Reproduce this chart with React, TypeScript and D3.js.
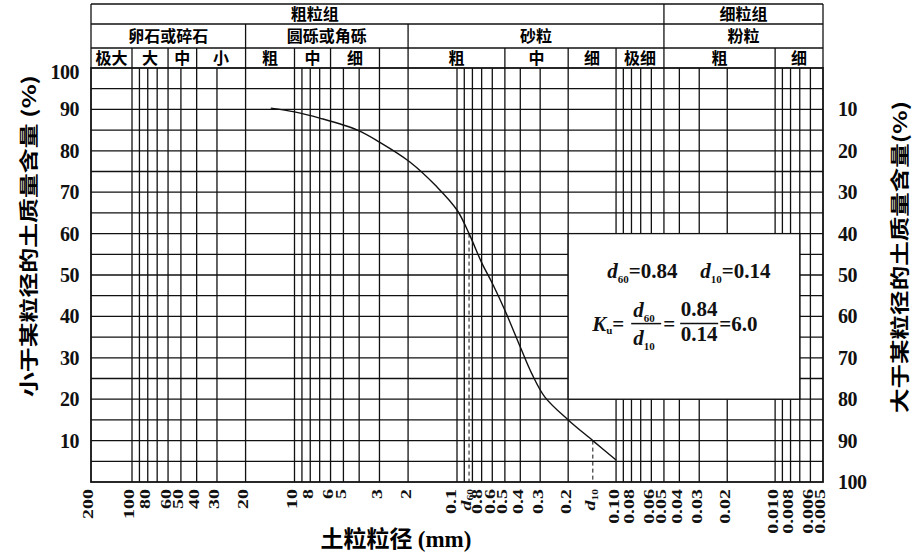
import React from "react";
import * as d3 from "d3";

// grain size (mm) vs percent finer
const curveSize = [14, 10, 7, 4.1, 3, 1.95, 1.33, 1.0, 0.84, 0.7, 0.6, 0.5, 0.4, 0.34, 0.28, 0.2, 0.14, 0.1];
const curvePercent = [90.3, 89.4, 87.9, 85.0, 82.1, 77.3, 71.3, 65.7, 60, 53, 48, 41.5, 32.6, 26.3, 20.5, 15, 10, 5.3];

const d60 = 0.84;
const d10 = 0.14;

// vertical grid lines of the log paper
const gridSizes = [
  100, 90, 80, 70, 60, 50, 40, 30, 20, 10, 9, 8, 7, 6, 5, 4, 3, 2, 1, 0.9, 0.8, 0.7, 0.6, 0.5, 0.4,
  0.3, 0.2, 0.1, 0.09, 0.08, 0.07, 0.06, 0.05, 0.04, 0.03, 0.02, 0.01, 0.009, 0.008, 0.007, 0.006,
];

const tickSizes = [
  200, 100, 80, 60, 50, 40, 30, 20, 10, 8, 6, 5, 3, 2, 1, 0.8, 0.6, 0.5, 0.4, 0.3, 0.2, 0.1, 0.08,
  0.06, 0.05, 0.04, 0.03, 0.02, 0.01, 0.008, 0.006, 0.005,
];
const tickLabels = [
  "200", "100", "80", "60", "50", "40", "30", "20", "10", "8", "6", "5", "3", "2", "0.1", "0.8",
  "0.6", "0.5", "0.4", "0.3", "0.2", "0.10", "0.08", "0.06", "0.05", "0.04", "0.03", "0.02",
  "0.010", "0.008", "0.006", "0.005",
];

const leftTicks = [100, 90, 80, 70, 60, 50, 40, 30, 20, 10];
const rightTicks = [10, 20, 30, 40, 50, 60, 70, 80, 90, 100];

// header table: [label, from size, to size]
const groupRow: [string, number, number][] = [
  ["粗粒组", 200, 0.05],
  ["细粒组", 0.05, 0.005],
];
const typeRow: [string, number, number][] = [
  ["卵石或碎石", 200, 20],
  ["圆砾或角砾", 20, 2],
  ["砂粒", 2, 0.05],
  ["粉粒", 0.05, 0.005],
];
const subRow: [string, number, number][] = [
  ["极大", 200, 100],
  ["大", 100, 60],
  ["中", 60, 40],
  ["小", 40, 20],
  ["粗", 20, 10],
  ["中", 10, 6],
  ["细", 6, 3],
  ["", 3, 2],
  ["粗", 2, 0.5],
  ["中", 0.5, 0.2],
  ["细", 0.2, 0.1],
  ["极细", 0.1, 0.05],
  ["粗", 0.05, 0.01],
  ["细", 0.01, 0.005],
];

const serif = "'Liberation Serif', 'Times New Roman', serif";
const cjk = "'Noto Sans CJK SC', sans-serif";

export default function App() {
  const x = d3.scaleLog().domain([200, 100, 1, 0.005]).range([91, 132, 457, 823]);
  const y = d3.scaleLinear().domain([0, 100]).range([482, 68]);
  const headerY = [4, 24, 48, 68];
  const headerBase = [20, 42, 64];

  const x0 = x(200);
  const x1 = x(0.005);

  const line = d3
    .line<number>()
    .x((i) => x(curveSize[i]))
    .y((i) => y(curvePercent[i]))
    .curve(d3.curveCatmullRom.alpha(0.5));

  const renderRow = (row: [string, number, number][], r: number, labelAt?: number) => (
    <g>
      {row.map(([label, a, b], i) => (
        <g key={i}>
          <line x1={x(a)} x2={x(a)} y1={headerY[r]} y2={headerY[r + 1]} stroke="#111" strokeWidth={1.3} />
          {label && (
            <text
              x={labelAt !== undefined && i === 0 ? x(labelAt) : (x(a) + x(b)) / 2}
              y={headerBase[r]}
              textAnchor="middle"
              style={{ fontFamily: cjk, fontWeight: "bold", fontSize: "16px" }}
            >
              {label}
            </text>
          )}
        </g>
      ))}
    </g>
  );

  // the tick labels around d60 sit a little apart in the figure
  const nudge: Record<string, number> = { "0.8": 7, "0.1": -3 };

  const bx = x(0.2);
  const by = y(60);

  const tickTransform = (px: number) => `translate(${px},489) rotate(-90) scale(1.05,0.82)`;

  return (
    <svg
      width={920}
      height={555}
      style={{ position: "absolute", left: 0, top: 0, background: "#fff" }}
    >
      {/* header table */}
      <line x1={x0} x2={x1} y1={headerY[0]} y2={headerY[0]} stroke="#111" strokeWidth={1.6} />
      <line x1={x0} x2={x1} y1={headerY[1]} y2={headerY[1]} stroke="#111" strokeWidth={1.3} />
      <line x1={x0} x2={x1} y1={headerY[2]} y2={headerY[2]} stroke="#111" strokeWidth={1.3} />
      <line x1={x1} x2={x1} y1={headerY[0]} y2={headerY[3]} stroke="#111" strokeWidth={1.3} />
      {renderRow(groupRow, 0, 7.5)}
      {renderRow(typeRow, 1)}
      {renderRow(subRow, 2)}

      {/* grid */}
      {d3.range(5, 100, 5).map((p) => (
        <line key={"h" + p} x1={x0} x2={x1} y1={y(p)} y2={y(p)} stroke="#111" strokeWidth={1.3} />
      ))}
      {gridSizes.map((s) => (
        <line key={"v" + s} x1={x(s)} x2={x(s)} y1={y(0)} y2={y(100)} stroke="#111" strokeWidth={1.3} />
      ))}
      <rect x={x0} y={y(100)} width={x1 - x0} height={y(0) - y(100)} fill="none" stroke="#111" strokeWidth={1.8} />

      {/* result box */}
      <rect x={bx} y={by} width={x(0.007) - bx} height={y(20) - by} fill="#fff" stroke="#111" strokeWidth={1.3} />
      <g style={{ fontFamily: serif, fontWeight: "bold", fontSize: "21px" }} fill="#111">
        <text x={bx + 39} y={by + 44}>
          <tspan fontStyle="italic">d</tspan>
          <tspan fontSize="11" dy={5}>60</tspan>
          <tspan dy={-5}>=0.84</tspan>
        </text>
        <text x={bx + 132} y={by + 44}>
          <tspan fontStyle="italic">d</tspan>
          <tspan fontSize="11" dy={5}>10</tspan>
          <tspan dy={-5}>=0.14</tspan>
        </text>
        <text x={bx + 24} y={by + 97}>
          <tspan fontStyle="italic">K</tspan>
          <tspan fontSize="11" dy={3}>u</tspan>
          <tspan dy={-3}>=</tspan>
        </text>
        <text x={bx + 65} y={by + 83}>
          <tspan fontStyle="italic">d</tspan>
          <tspan fontSize="11" dy={5}>60</tspan>
        </text>
        <line x1={bx + 63} x2={bx + 93} y1={by + 90} y2={by + 90} stroke="#111" strokeWidth={1.5} />
        <text x={bx + 65} y={by + 111}>
          <tspan fontStyle="italic">d</tspan>
          <tspan fontSize="11" dy={5}>10</tspan>
        </text>
        <text x={bx + 95} y={by + 97}>=</text>
        <text x={bx + 131} y={by + 82} textAnchor="middle">0.84</text>
        <line x1={bx + 112} x2={bx + 150} y1={by + 90} y2={by + 90} stroke="#111" strokeWidth={1.5} />
        <text x={bx + 131} y={by + 107} textAnchor="middle">0.14</text>
        <text x={bx + 151} y={by + 97}>=6.0</text>
      </g>

      {/* d60 / d10 guides */}
      <line x1={x(d60)} x2={x(d60)} y1={y(60)} y2={y(0)} stroke="#111" strokeWidth={1} strokeDasharray="4,3" />
      <line x1={x(d10)} x2={x(d10)} y1={y(10)} y2={y(0)} stroke="#111" strokeWidth={1} strokeDasharray="4,3" />

      {/* grading curve */}
      <path d={line(d3.range(curveSize.length)) || ""} fill="none" stroke="#111" strokeWidth={1.4} />

      {/* y axes */}
      <g style={{ fontFamily: serif, fontWeight: "bold", fontSize: "20px" }} fill="#111">
        {leftTicks.map((p) => (
          <text key={"l" + p} x={79} y={p === 100 ? y(p) + 4 : y(p)} textAnchor="end" dominantBaseline="central" letterSpacing={-0.5}>
            {p}
          </text>
        ))}
        {rightTicks.map((p) => (
          <text key={"r" + p} x={838} y={y(100 - p)} dominantBaseline="central" letterSpacing={-0.5}>
            {p}
          </text>
        ))}
      </g>

      {/* x tick labels */}
      <g style={{ fontFamily: serif, fontWeight: "bold", fontSize: "19px" }} fill="#111">
        {tickSizes.map((s, i) => (
          <text key={"t" + i} transform={tickTransform(x(s) + (nudge[tickLabels[i]] || 0))} textAnchor="end" dy={3}>
            {tickLabels[i]}
          </text>
        ))}
        <text transform={tickTransform(x(d60) - 1)} textAnchor="end" dy={3}>
          <tspan fontStyle="italic">d</tspan>
          <tspan fontSize="11" dy={3}>60</tspan>
        </text>
        <text transform={tickTransform(x(d10))} textAnchor="end" dy={3}>
          <tspan fontStyle="italic">d</tspan>
          <tspan fontSize="11" dy={3}>10</tspan>
        </text>
      </g>

      {/* axis titles */}
      <text
        transform="translate(27,236) rotate(-90)"
        textAnchor="middle"
        dominantBaseline="central"
        textLength={322}
        lengthAdjust="spacingAndGlyphs"
        style={{ fontFamily: cjk, fontWeight: "bold", fontSize: "19px" }}
      >
        小于某粒径的土质量含量 (%)
      </text>
      <text
        transform="translate(898,257) rotate(-90)"
        textAnchor="middle"
        dominantBaseline="central"
        textLength={312}
        lengthAdjust="spacingAndGlyphs"
        style={{ fontFamily: cjk, fontWeight: "bold", fontSize: "19px" }}
      >
        大于某粒径的土质量含量(%)
      </text>
      <text x={396} y={547} textAnchor="middle" style={{ fontWeight: "bold", fontSize: "23px" }}>
        <tspan style={{ fontFamily: cjk }}>土粒粒径 </tspan>
        <tspan style={{ fontFamily: serif }}>(mm)</tspan>
      </text>
    </svg>
  );
}
